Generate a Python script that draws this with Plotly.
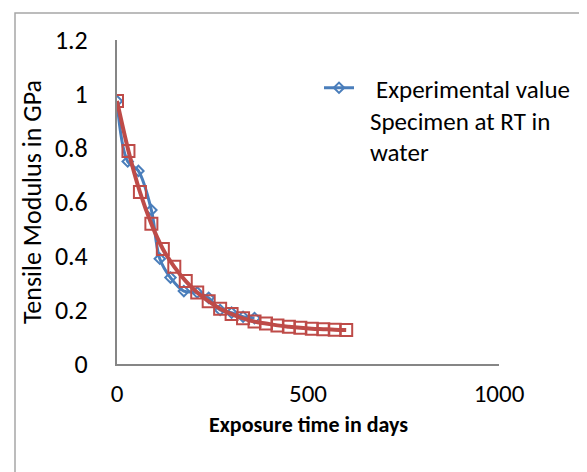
import plotly.graph_objects as go

# Experimental data (blue)
exp_days = [0, 28, 56, 90, 112, 140, 175, 210, 240, 270, 300, 330, 360]
exp_modulus = [0.974, 0.75, 0.715, 0.57, 0.39, 0.32, 0.27, 0.265, 0.245, 0.20, 0.19, 0.175, 0.17]

# Model / predicted curve (red)
pred_days = [0, 30, 60, 90, 120, 150, 180, 210, 240, 270, 300, 330, 360,
             390, 420, 450, 480, 510, 540, 570, 600]
pred_modulus = [0.974, 0.789, 0.637, 0.519, 0.426, 0.36, 0.307, 0.265, 0.232,
                0.205, 0.185, 0.169, 0.157, 0.150, 0.143, 0.138, 0.134, 0.131,
                0.129, 0.127, 0.126]

x_ticks = [0, 500, 1000]
y_ticks = [0, 0.2, 0.4, 0.6, 0.8, 1, 1.2]
y_tick_text = ["0", "0.2", "0.4", "0.6", "0.8", "1", "1.2"]

legend_lines = ["Experimental value", "Specimen at RT in", "water"]

FONT = "Carlito, Calibri, 'Liberation Sans', Arial, sans-serif"
BLUE = "#4A7EBB"
RED = "#BE4B48"
NB = "\u00a0"

fig = go.Figure()
fig.add_trace(go.Scatter(
    x=exp_days, y=exp_modulus, mode="lines+markers",
    name=NB * 3 + legend_lines[0],
    line=dict(color=BLUE, width=3, shape="spline"),
    marker=dict(symbol="diamond-open", size=8, color=BLUE, line=dict(width=2)),
))
fig.add_trace(go.Scatter(
    x=pred_days, y=pred_modulus, mode="lines+markers",
    name="Predicted", showlegend=False,
    line=dict(color=RED, width=4, shape="spline"),
    marker=dict(symbol="square-open", size=12, color=RED, line=dict(width=2)),
))

W, H = 587, 472
L, R, T, B = 109, 96, 32, 116
pw, ph = W - L - R, H - T - B

def px_x(p):
    return (p - L) / pw

def px_y(p):
    return (H - B - p) / ph

annotations = [dict(text="<b>Exposure time in days</b>", xref="paper", yref="paper",
                    x=0.5, y=px_y(416), xanchor="center", yanchor="middle",
                    showarrow=False, font=dict(family=FONT, size=22, color="#000000"))]
for txt, ypix in zip(legend_lines[1:], [113, 144]):
    annotations.append(dict(text=txt, xref="paper", yref="paper",
                            x=px_x(360), y=px_y(ypix), xanchor="left", yanchor="middle",
                            showarrow=False, font=dict(family=FONT, size=25, color="#000000")))

fig.update_layout(
    width=W, height=H,
    margin=dict(l=L, r=R, t=T, b=B),
    paper_bgcolor="white", plot_bgcolor="white",
    font=dict(family=FONT, size=26, color="#000000"),
    legend=dict(x=px_x(311), y=px_y(57), xanchor="left", yanchor="top",
                valign="middle", bgcolor="rgba(0,0,0,0)",
                font=dict(family=FONT, size=25, color="#000000")),
    xaxis=dict(range=[0, 1000], tickvals=x_ticks, showgrid=False, zeroline=False,
               showline=True, linecolor="#868686", linewidth=2,
               ticks="outside", ticklen=6, tickcolor="rgba(0,0,0,0)",
               tickfont=dict(size=25)),
    yaxis=dict(range=[0, 1.2], tickvals=y_ticks, ticktext=y_tick_text, showgrid=False,
               zeroline=False, showline=True, linecolor="#868686", linewidth=2,
               ticks="outside", ticklen=22, tickcolor="rgba(0,0,0,0)",
               tickfont=dict(size=26),
               title=dict(text="Tensile Modulus in GPa", font=dict(size=26), standoff=6)),
    annotations=annotations,
    shapes=[dict(type="rect", xref="paper", yref="paper",
                 x0=px_x(7), x1=px_x(581), y0=px_y(466), y1=px_y(5),
                 line=dict(color="#A6A6A6", width=1.5), fillcolor="rgba(0,0,0,0)",
                 layer="below")],
)

fig.write_html("out.html")
